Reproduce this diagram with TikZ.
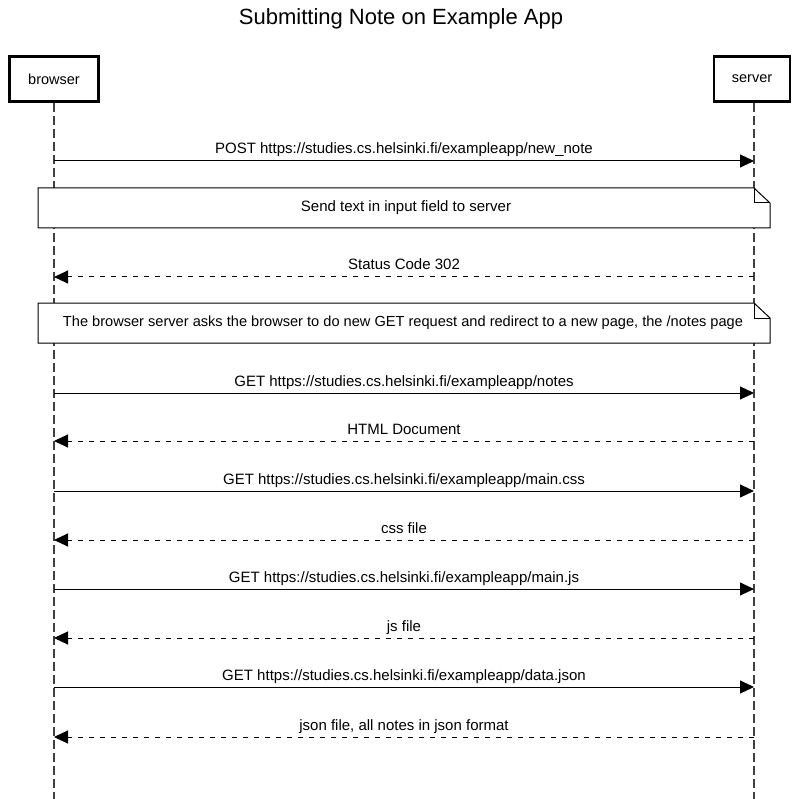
\documentclass[tikz,border=0pt]{standalone}
\usepackage{fontspec}
\setmainfont{Liberation Sans}
\usetikzlibrary{arrows.meta}
\begin{document}
\begin{tikzpicture}[x=1pt,y=-1pt,
  actorbox/.style={draw=black,line width=2.6pt,fill=white,minimum width=89pt,minimum height=45pt,inner sep=0pt,font=\fontsize{14.5}{16}\selectfont},
  lifeline/.style={draw=black!75,line width=1.5pt,dash pattern=on 9pt off 4pt},
  msg/.style={draw=black,line width=1pt,-{Triangle[length=14pt,width=13pt]}},
  reply/.style={msg,dash pattern=on 5pt off 6pt},
  lbl/.style={font=\fontsize{15}{17}\selectfont,inner sep=0pt,anchor=base},
  notetext/.style={font=\fontsize{15}{17}\selectfont,inner sep=0pt}
]
\useasboundingbox (0,0) rectangle (802,799);
\node[font=\fontsize{22}{26}\selectfont,inner sep=0pt] (title) at (401,19) {Submitting Note on Example App};

% lifelines
\coordinate (bt) at (54,103);
\coordinate (bb) at (54,799);
\coordinate (st) at (754,103);
\coordinate (sb) at (754,799);
\draw[lifeline] (bt) -- (bb);
\draw[lifeline] (st) -- (sb);

\node[actorbox] (browser) at (54,79) {browser};
\node[actorbox,minimum width=76pt] (server) at (752,79) {server};

% message coordinates
\foreach \n/\y in {1/161,2/277,3/393,4/441,5/491,6/540,7/589,8/638,9/687,10/737}{
  \coordinate (b\n) at (54,\y);
  \coordinate (s\n) at (754,\y);
}

\draw[msg] (b1) -- (s1) node[lbl,midway,yshift=7pt] (m1) {POST https://studies.cs.helsinki.fi/exampleapp/new\_note};

% note 1
\draw[draw=black,line width=1pt,fill=white] (38,188) -- (754,188) -- (770,203) -- (770,228) -- (38,228) -- cycle;
\draw[line width=1pt] (754,188) -- (754,203) -- (770,203);
\node[notetext] (n1) at (406,208) {Send text in input field to server};

\draw[reply] (s2) -- (b2) node[lbl,midway,yshift=7pt] (m2) {Status Code 302};

% note 2
\draw[draw=black,line width=1pt,fill=white] (38,303) -- (754,303) -- (770,318) -- (770,343) -- (38,343) -- cycle;
\draw[line width=1pt] (754,303) -- (754,318) -- (770,318);
\node[notetext,font=\fontsize{14.6}{17}\selectfont] (n2) at (403,323) {The browser server asks the browser to do new GET request and redirect to a new page, the /notes page};

\draw[msg] (b3) -- (s3) node[lbl,midway,yshift=7pt] (m3) {GET https://studies.cs.helsinki.fi/exampleapp/notes};
\draw[reply] (s4) -- (b4) node[lbl,midway,yshift=7pt] (m4) {HTML Document};
\draw[msg] (b5) -- (s5) node[lbl,midway,yshift=7pt] (m5) {GET https://studies.cs.helsinki.fi/exampleapp/main.css};
\draw[reply] (s6) -- (b6) node[lbl,midway,yshift=7pt] (m6) {css file};
\draw[msg] (b7) -- (s7) node[lbl,midway,yshift=7pt] (m7) {GET https://studies.cs.helsinki.fi/exampleapp/main.js};
\draw[reply] (s8) -- (b8) node[lbl,midway,yshift=7pt] (m8) {js file};
\draw[msg] (b9) -- (s9) node[lbl,midway,yshift=7pt] (m9) {GET https://studies.cs.helsinki.fi/exampleapp/data.json};
\draw[reply] (s10) -- (b10) node[lbl,midway,yshift=7pt] (m10) {json file, all notes in json format};
\end{tikzpicture}
\end{document}
